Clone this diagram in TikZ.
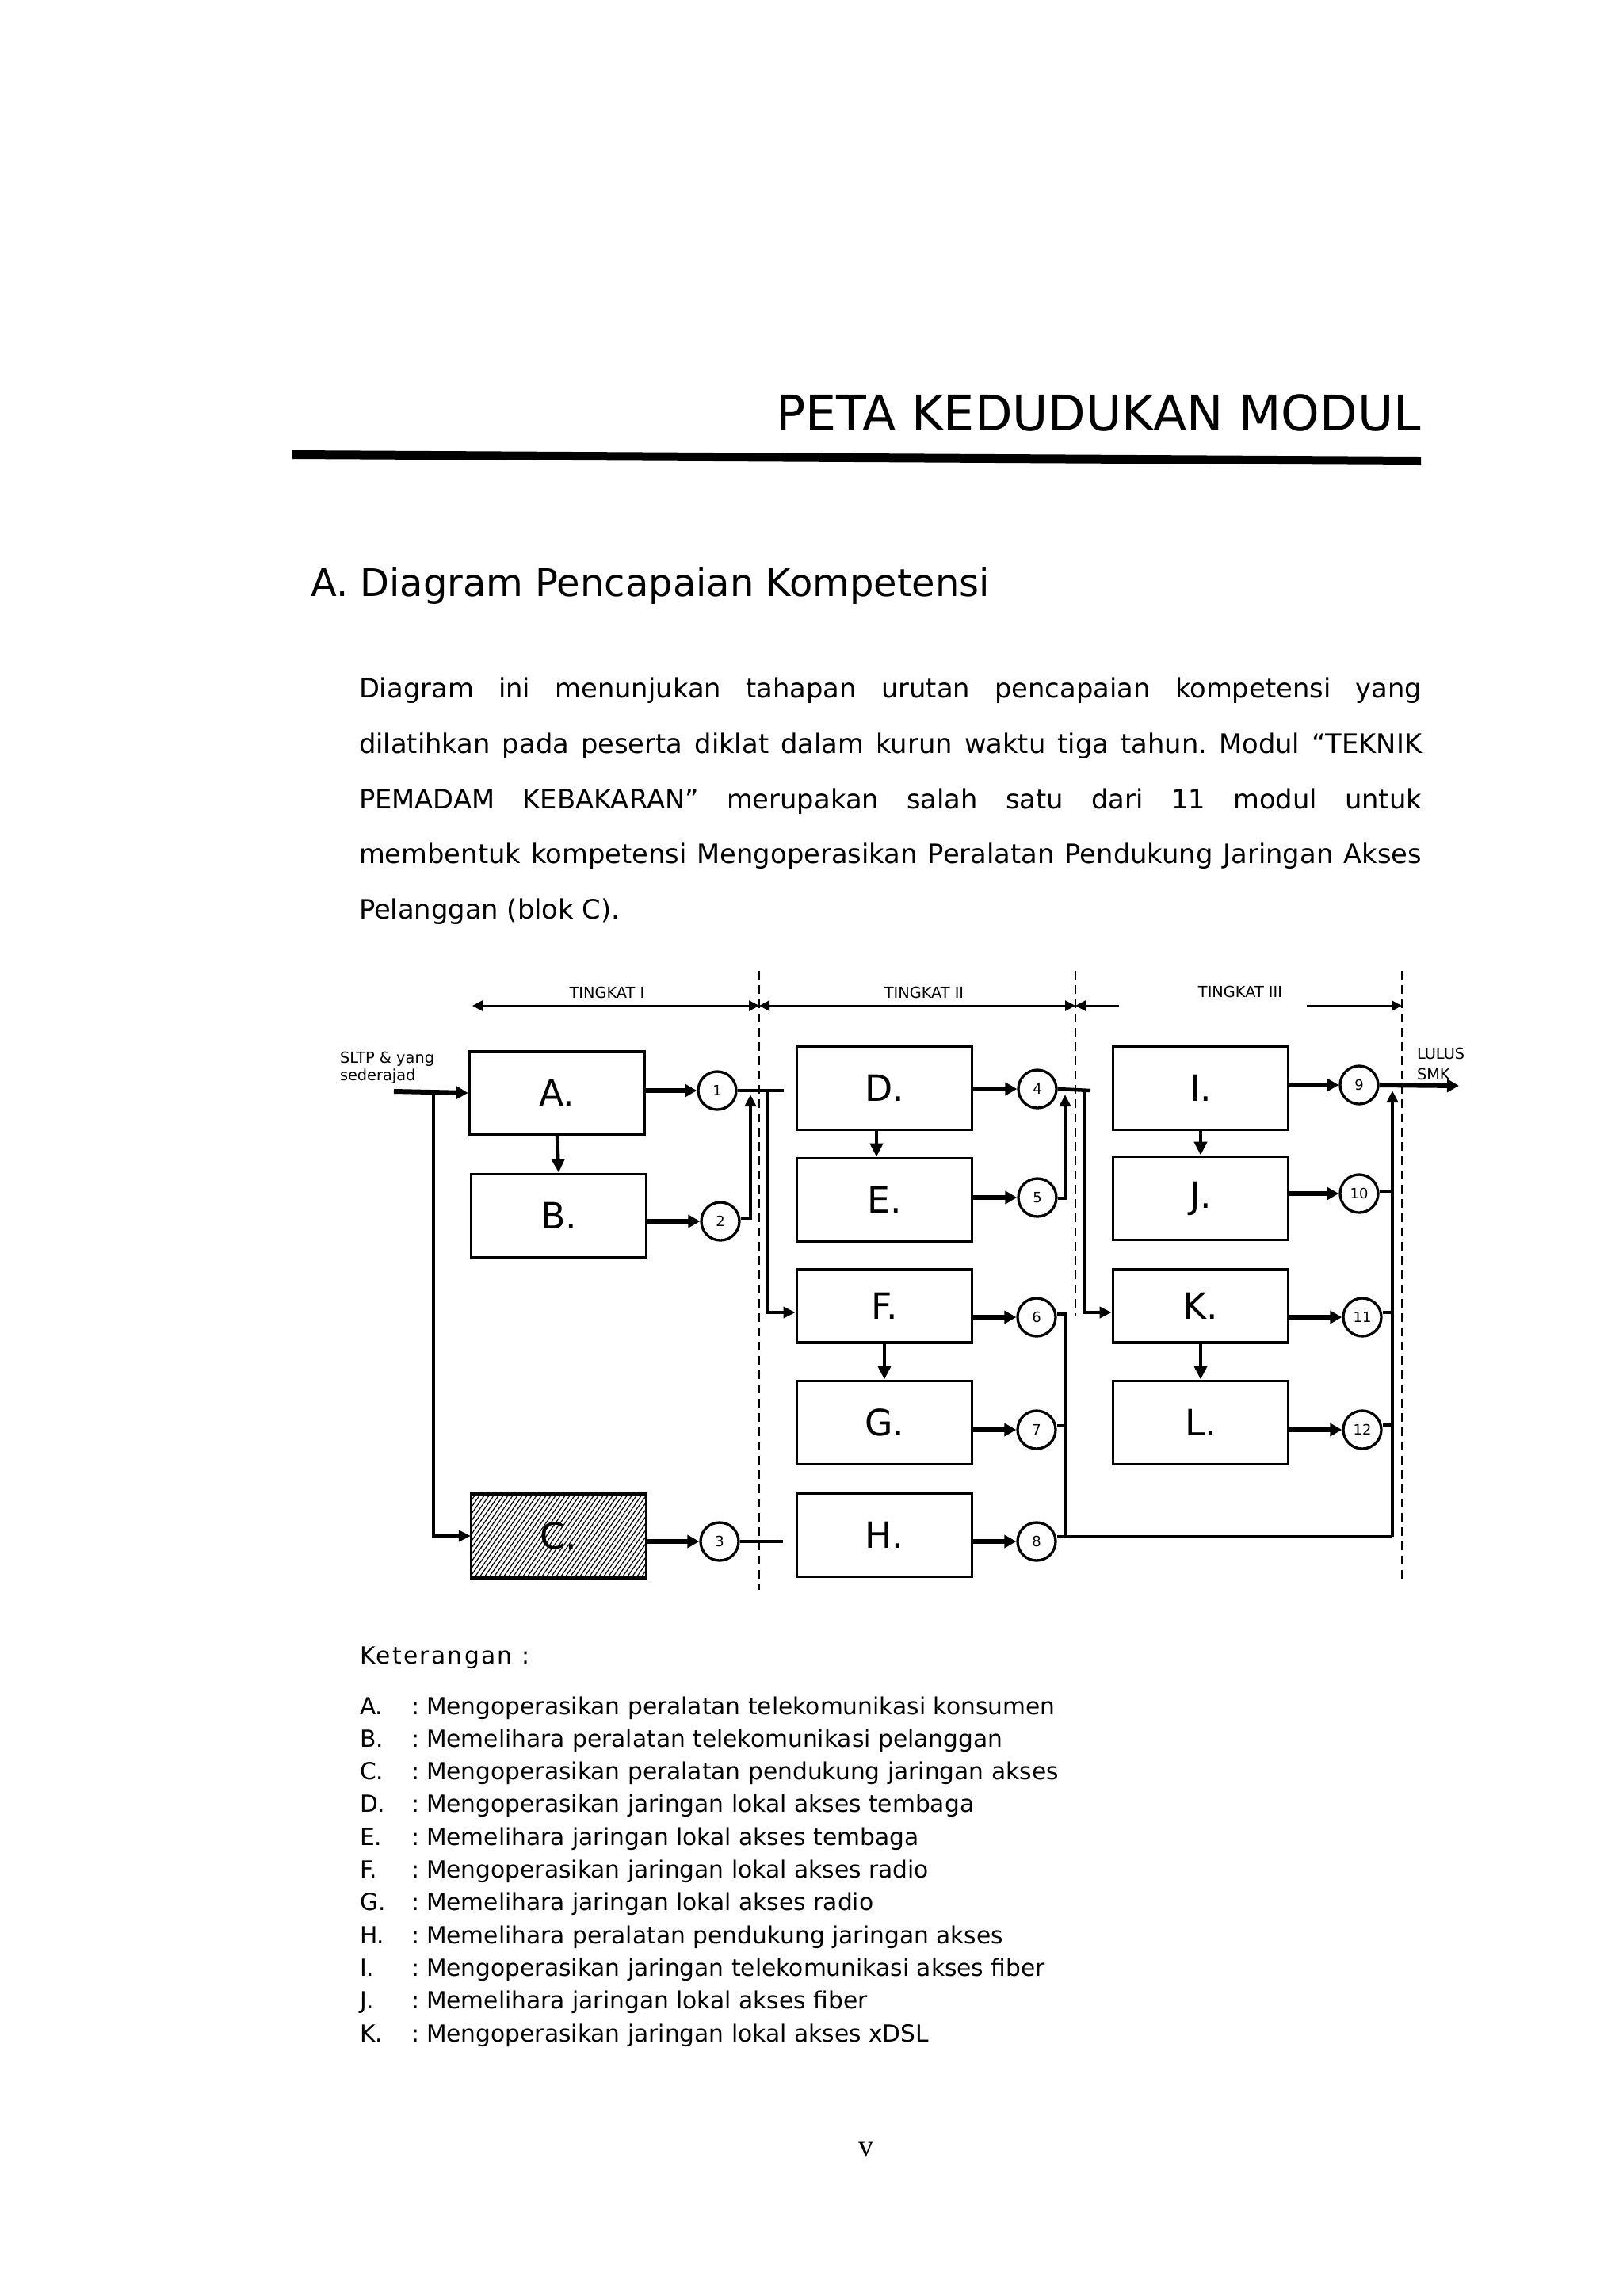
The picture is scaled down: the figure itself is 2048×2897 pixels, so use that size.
\documentclass[tikz,border=0pt]{standalone}
\usepackage{fontspec}
\setmainfont{DejaVu Sans}
\newfontfamily\pnumfont{Liberation Serif}
\usetikzlibrary{arrows.meta,patterns.meta,calc}
\frenchspacing
\begin{document}
\begin{tikzpicture}[x=0.1mm,y=-0.1mm,
  txt/.style={inner sep=0pt,outer sep=0pt},
  titlef/.style={txt,font=\fontsize{17.6pt}{20pt}\selectfont},
  headf/.style={txt,font=\fontsize{13.65pt}{16pt}\selectfont},
  paraf/.style={txt,font=\fontsize{9.6pt}{12pt}\selectfont},
  ketf/.style={txt,font=\fontsize{8.45pt}{10pt}\selectfont},
  smallf/.style={txt,font=\fontsize{5.5pt}{6.6pt}\selectfont,align=left},
  box/.style={draw,line width=0.38mm,minimum width=22.1mm,minimum height=10.5mm,inner sep=0pt,
              font=\fontsize{13pt}{15pt}\selectfont},
  circ/.style={draw,circle,line width=0.33mm,minimum size=4.8mm,inner sep=0pt,fill=white,
              font=\fontsize{5.1pt}{6pt}\selectfont},
  flow/.style={line width=0.6mm,-{Triangle[length=1.5mm,width=1.6mm]}},
  bus/.style={line width=0.45mm},
  endhead/.style={-{Triangle[length=1.5mm,width=1.4mm]}},
  vflow/.style={line width=0.45mm,-{Triangle[length=1.7mm,width=1.6mm]}},
  tarrow/.style={line width=0.25mm},
  divider/.style={line width=0.25mm,dash pattern=on 1.1mm off 0.7mm}
]
\useasboundingbox (0,0) rectangle (2048,2897);
\fill[white] (0,0) rectangle (2048,2897);

% ---------- header ----------
\node[titlef,anchor=base east] (title) at (1793,543) {PETA KEDUDUKAN MODUL};
\fill (369,568) -- (1793,576) -- (1793,587) -- (369,579) -- cycle;
\node[headf,anchor=base west] (head) at (392,752) {A. Diagram Pencapaian Kompetensi};

% ---------- paragraph ----------
\node[paraf,anchor=base west] (p1) at (453,880) {\makebox[134.1mm][s]{Diagram ini menunjukan tahapan urutan pencapaian kompetensi yang}};
\node[paraf,anchor=base west] (p2) at (453,950) {\makebox[134.1mm][s]{dilatihkan pada peserta diklat dalam kurun waktu tiga tahun. Modul “TEKNIK}};
\node[paraf,anchor=base west] (p3) at (453,1020) {\makebox[134.1mm][s]{PEMADAM KEBAKARAN” merupakan salah satu dari 11 modul untuk}};
\node[paraf,anchor=base west] (p4) at (453,1089) {\makebox[134.1mm][s]{membentuk kompetensi Mengoperasikan Peralatan Pendukung Jaringan Akses}};
\node[paraf,anchor=base west] (p5) at (453,1159) {Pelanggan (blok C).};

% ---------- tingkat header ----------
\node[smallf,anchor=base] (tk1) at (766,1259) {TINGKAT I};
\node[smallf,anchor=base] (tk2) at (1166,1259) {TINGKAT II};
\node[smallf,anchor=base] (tk3) at (1565,1258) {TINGKAT III};
\coordinate (t0) at (596,1269);
\coordinate (t1) at (958,1269);
\coordinate (t2) at (1357,1269);
\coordinate (t3a) at (1412,1269);
\coordinate (t3b) at (1649,1269);
\coordinate (t4) at (1769,1269);
\draw[tarrow,{Triangle[length=1.3mm,width=1.3mm]}-{Triangle[length=1.3mm,width=1.3mm]}] (t0) -- (t1);
\draw[tarrow,{Triangle[length=1.3mm,width=1.3mm]}-{Triangle[length=1.3mm,width=1.3mm]}] (t1) -- (t2);
\draw[tarrow,-{Triangle[length=1.3mm,width=1.3mm]}] (t3a) -- (t2);
\draw[tarrow,-{Triangle[length=1.3mm,width=1.3mm]}] (t3b) -- (t4);

% ---------- dashed dividers ----------
\coordinate (d1t) at (958,1225);  \coordinate (d1b) at (958,2006);
\coordinate (d2t) at (1357,1225); \coordinate (d2b) at (1357,1661);
\coordinate (d3t) at (1769,1225); \coordinate (d3b) at (1769,1992);
\draw[divider] (d1t) -- (d1b);
\draw[divider] (d2t) -- (d2b);
\draw[divider] (d3t) -- (d3b);

% ---------- side labels ----------
\node[smallf,anchor=base west] (sltp) at (429,1363) {SLTP \& yang\\[-0.5pt]sederajad};
\node[smallf,anchor=base west] (lulus) at (1788,1362) {LULUS\\[0.8pt]SMK};

% ---------- boxes ----------
\node[box,minimum height=10.4mm] (A) at (703,1379) {A.};
\node[box] (B) at (705,1534) {B.};
\node[box,minimum height=10.6mm,pattern={Lines[angle=55,distance=1.4pt,line width=0.35pt]}] (C) at (705,1938) {C.};
\node[box] (D) at (1116,1373) {D.};
\node[box] (E) at (1116,1514) {E.};
\node[box,minimum height=9.2mm] (F) at (1116,1648) {F.};
\node[box] (G) at (1116,1795) {G.};
\node[box] (H) at (1116,1937) {H.};
\node[box] (I) at (1515,1373) {I.};
\node[box] (J) at (1515,1512) {J.};
\node[box,minimum height=9.2mm] (K) at (1515,1648) {K.};
\node[box] (L) at (1515,1795) {L.};

% ---------- circles ----------
\node[circ] (c1) at (905,1376) {1};
\node[circ] (c2) at (909,1541) {2};
\node[circ] (c3) at (908,1945) {3};
\node[circ] (c4) at (1309,1374) {4};
\node[circ] (c5) at (1309,1511) {5};
\node[circ] (c6) at (1308,1662) {6};
\node[circ] (c7) at (1308,1804) {7};
\node[circ] (c8) at (1308,1945) {8};
\node[circ] (c9) at (1715,1369) {9};
\node[circ] (c10) at (1715,1506) {10};
\node[circ] (c11) at (1719,1662) {11};
\node[circ] (c12) at (1719,1804) {12};

% ---------- box -> circle ----------
\foreach \b/\c in {A/c1,B/c2,C/c3,D/c4,E/c5,F/c6,G/c7,H/c8,I/c9,J/c10,K/c11,L/c12}{
  \draw[flow] (\b.east |- \c) -- (\c);
}

% ---------- vertical arrows ----------
\draw[vflow] (A.south) -- (B.north);
\draw[vflow] ($(D.south)+(-10,0)$) -- ($(E.north)+(-10,0)$);
\draw[vflow] (F.south) -- (G.north);
\draw[vflow] (I.south) -- (J.north);
\draw[vflow] (K.south) -- (L.north);

% ---------- input ----------
\coordinate (in) at (497,1377);
\coordinate (trunk) at (547,1377);
\draw[flow] (in) -- (A.west);
\draw[bus,endhead] (trunk) |- (C.west);

% ---------- tier I -> II ----------
\coordinate (o1) at (989,1376);
\coordinate (j1) at (969,1376);
\draw[bus] (c1.east) -- (o1);
\draw[bus,endhead] (j1) |- ($(F.west)+(0,8)$);
\draw[bus,endhead] ($(c2.east)+(0,-4)$) -| ($(j1)+(-22,5)$);
\coordinate (o3) at (988,1945);
\draw[bus] (c3.east) -- (o3);

% ---------- tier II -> III ----------
\coordinate (o4) at (1376,1376);
\coordinate (j4) at (1369,1376);
\draw[bus] (c4.east) -- (o4);
\draw[bus,endhead] (j4) |- ($(K.west)+(0,8)$);
\draw[bus,endhead] ($(c5.east)+(0,1)$) -| ($(j4)+(-25,5)$);
\coordinate (lb) at (1345,1939);
\draw[bus] ($(c6.east)+(0,-4)$) -| (lb);
\draw[bus] ($(c7.east)+(0,-5)$) -- ($(c7.east -| lb)+(0,-5)$);

% ---------- tier III -> output ----------
\coordinate (out) at (1841,1370);
\coordinate (rb) at (1757,1939);
\coordinate (rbtop) at (1757,1376);
\draw[flow] (c9.east) -- (out);
\draw[bus,endhead] (rb) -- (rbtop);
\draw[bus] ($(c8.east)+(0,-6)$) -- (rb);
\draw[bus] ($(c10.east)+(0,-3)$) -- ($(c10.east -| rb)+(0,-3)$);
\draw[bus] ($(c11.east)+(0,-6)$) -- ($(c11.east -| rb)+(0,-6)$);
\draw[bus] ($(c12.east)+(0,-6)$) -- ($(c12.east -| rb)+(0,-6)$);

% ---------- legend ----------
\node[ketf,anchor=base west,font=\fontsize{8.45pt}{10pt}\selectfont\addfontfeature{LetterSpace=8}] (ket) at (454,2099) {Keterangan :};
\foreach \i/\l/\t in {0/A./Mengoperasikan peralatan telekomunikasi konsumen,
  1/B./Memelihara peralatan telekomunikasi pelanggan,
  2/C./Mengoperasikan peralatan pendukung jaringan akses,
  3/D./Mengoperasikan jaringan lokal akses tembaga,
  4/E./Memelihara jaringan lokal akses tembaga,
  5/F./Mengoperasikan jaringan lokal akses radio,
  6/G./Memelihara jaringan lokal akses radio,
  7/H./Memelihara peralatan pendukung jaringan akses,
  8/I./Mengoperasikan jaringan telekomunikasi akses fiber,
  9/J./Memelihara jaringan lokal akses fiber,
  10/K./Mengoperasikan jaringan lokal akses xDSL}{
  \node[ketf,anchor=base west] (kl\i) at (454,{2163+41.3*\i}) {\l};
  \node[ketf,anchor=base west] (kc\i) at (519,{2163+41.3*\i}) {:};
  \node[ketf,anchor=base west] (kt\i) at (538,{2163+41.3*\i}) {\t};
}

% ---------- page number ----------
\node[txt,anchor=base,font=\pnumfont\fontsize{10.8pt}{12pt}\selectfont] (pg) at (1093,2720) {v};
\end{tikzpicture}
\end{document}
